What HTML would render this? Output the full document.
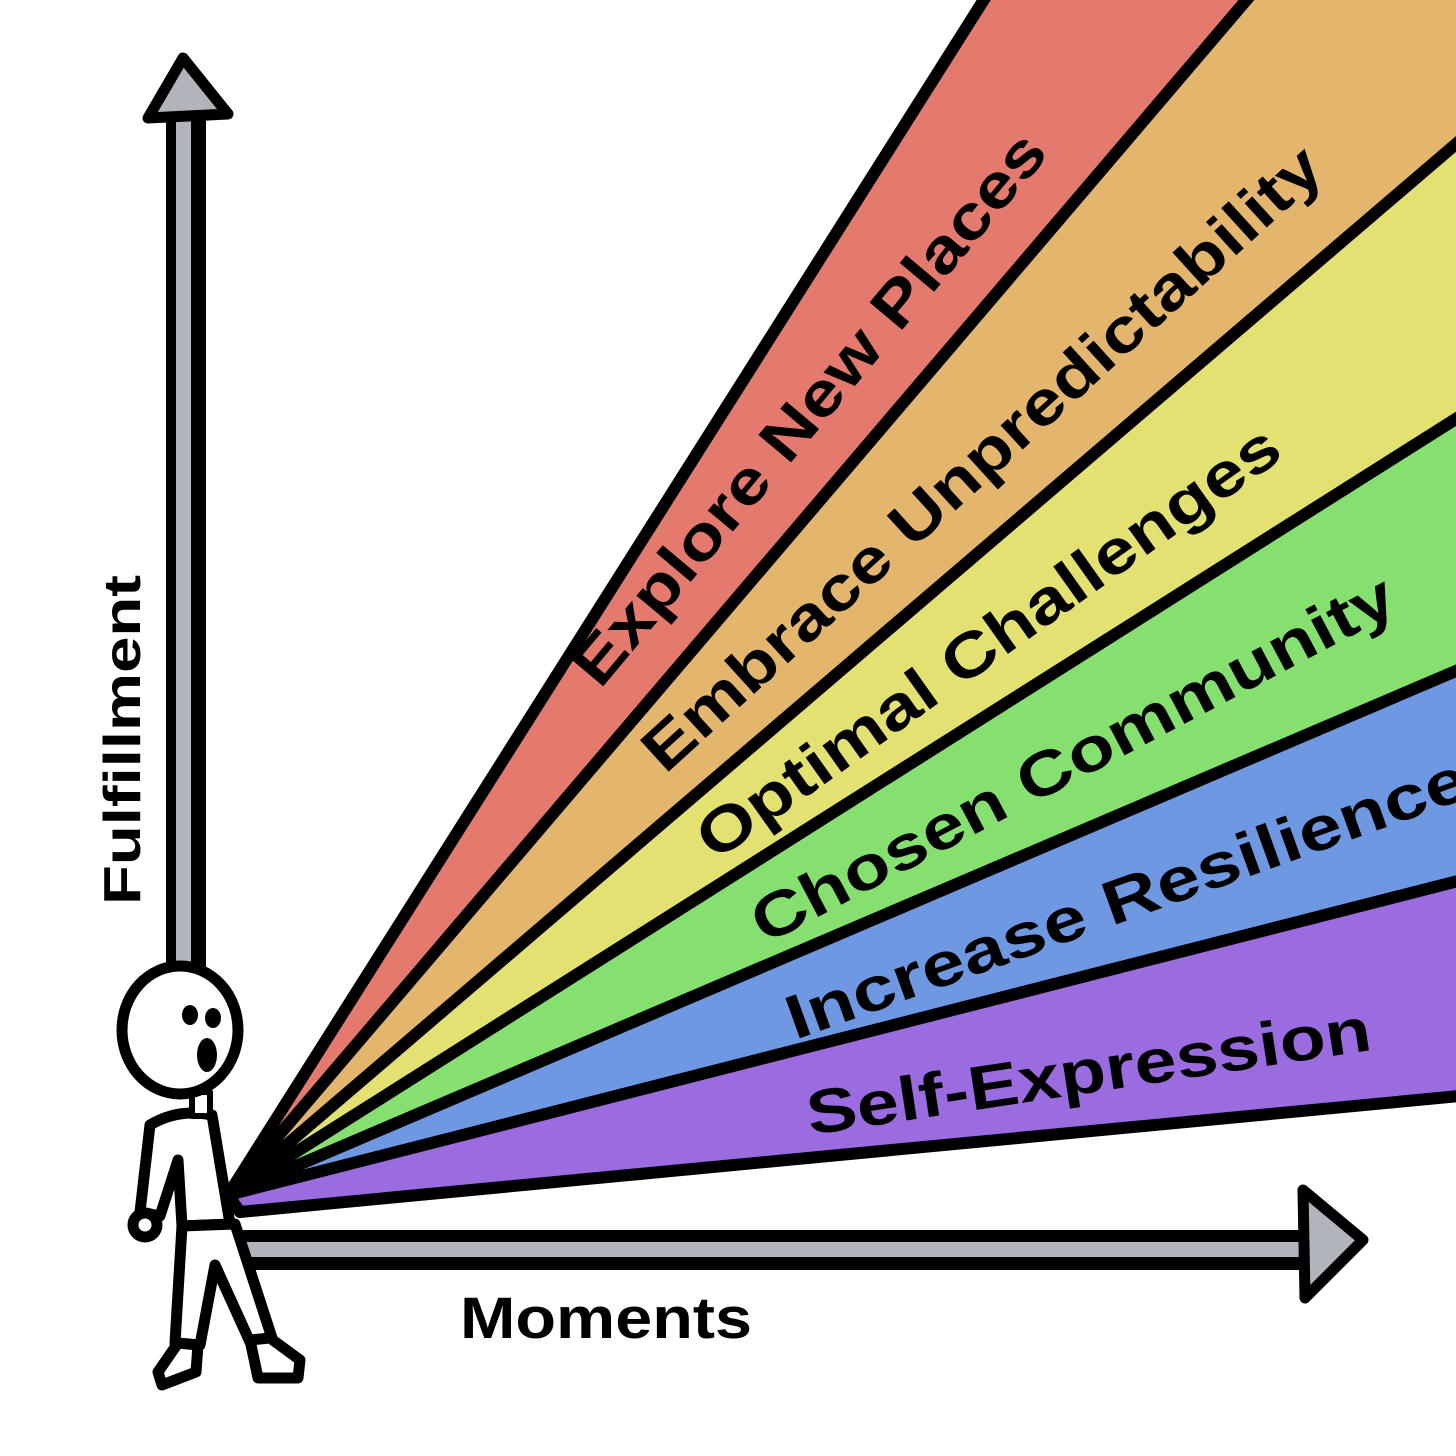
<!DOCTYPE html>
<html><head><meta charset="utf-8"><style>
html,body{margin:0;padding:0;background:#fff;}
svg{display:block;}
text{font-family:"Liberation Sans",sans-serif;font-weight:bold;fill:#000;}
</style></head><body>
<svg width="1456" height="1456" viewBox="0 0 1456 1456" xmlns="http://www.w3.org/2000/svg">
<rect x="166" y="105" width="40" height="880" fill="#000"/>
<rect x="176" y="105" width="15" height="880" fill="#b1b4bb"/>
<polygon points="183,58 228,114 148,118" fill="#b1b4bb" stroke="#000" stroke-width="11" stroke-linejoin="round"/>
<rect x="230" y="1230" width="1080" height="40" fill="#000"/>
<rect x="230" y="1242" width="1080" height="15" fill="#b1b4bb"/>
<polygon points="1303,1190 1363,1240 1305,1298" fill="#b1b4bb" stroke="#000" stroke-width="11" stroke-linejoin="round"/>
<g stroke="#000" stroke-width="12" stroke-linejoin="round">
<polygon points="228,1195 990,-10 1255,-10" fill="#e47a6e"/>
<polygon points="228,1195 1255,-10 1470,-10 1470,132" fill="#e4b66d"/>
<polygon points="228,1195 1470,132 1470,410" fill="#e3e172"/>
<polygon points="228,1195 1470,410 1470,665" fill="#85e070"/>
<polygon points="228,1195 1470,665 1470,878" fill="#6f98e3"/>
<polygon points="228,1195 1470,878 1470,1095 240,1212" fill="#9a6ce0"/>
</g>
<text x="600" y="690" font-size="62" transform="rotate(-50 600 690)" textLength="700" lengthAdjust="spacingAndGlyphs">Explore New Places</text>
<text x="665" y="775" font-size="62" transform="rotate(-42.3 665 775)" textLength="895" lengthAdjust="spacingAndGlyphs">Embrace Unpredictability</text>
<text x="715" y="862" font-size="62" transform="rotate(-35.4 715 862)" textLength="700" lengthAdjust="spacingAndGlyphs">Optimal Challenges</text>
<text x="765" y="945" font-size="62" transform="rotate(-27.8 765 945)" textLength="718" lengthAdjust="spacingAndGlyphs">Chosen Community</text>
<text x="795" y="1040" font-size="62" transform="rotate(-19.8 795 1040)" textLength="720" lengthAdjust="spacingAndGlyphs">Increase Resilience</text>
<text x="810" y="1135" font-size="62" transform="rotate(-8.6 810 1135)" textLength="570" lengthAdjust="spacingAndGlyphs">Self-Expression</text>
<text x="140" y="905" font-size="52" transform="rotate(-90 140 905)" textLength="330" lengthAdjust="spacingAndGlyphs">Fulfillment</text>
<text x="460" y="1338" font-size="58" textLength="292" lengthAdjust="spacingAndGlyphs">Moments</text>
<g stroke="#000" stroke-width="11" stroke-linejoin="round" stroke-linecap="round" fill="#fff">
<path d="M150,1125 Q178,1108 212,1115 L230,1224 L182,1226 L178,1160 L160,1216 L140,1212 Z"/>
<circle cx="145" cy="1225" r="12"/>
<path d="M182,1226 L235,1224 L272,1338 L250,1342 L215,1265 L200,1345 L175,1343 Z"/>
<path d="M178,1343 L198,1345 L196,1372 L162,1385 L158,1372 Z"/>
<path d="M250,1340 L270,1338 L300,1360 L298,1378 L258,1378 Z"/>
<rect x="192" y="1092" width="18" height="24" stroke-width="6"/>
<ellipse cx="180" cy="1030" rx="58" ry="64"/>
</g>
<ellipse cx="190" cy="1015" rx="8" ry="10" fill="#000"/>
<ellipse cx="213" cy="1018" rx="8" ry="10" fill="#000"/>
<ellipse cx="207" cy="1055" rx="10" ry="17" fill="#000"/>
</svg>
</body></html>
